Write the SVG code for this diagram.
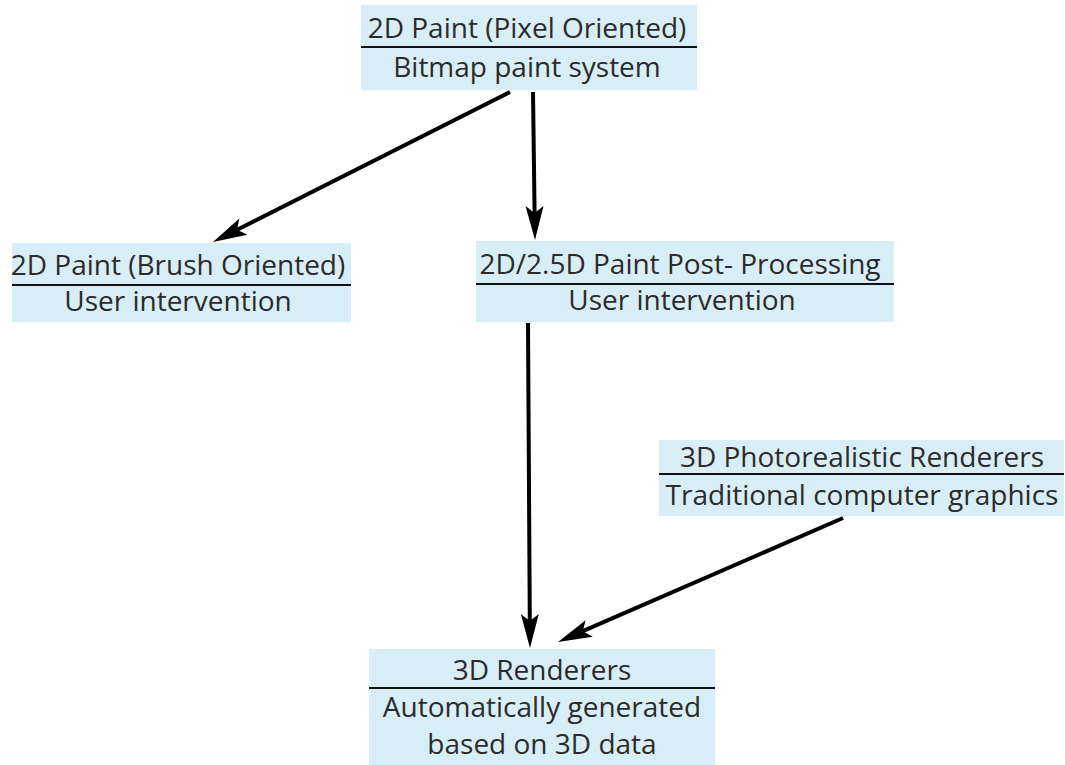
<svg xmlns="http://www.w3.org/2000/svg" width="1065" height="765" viewBox="0 0 1065 765">
<defs>
<style>
.box{fill:#d8eef7;stroke:none}
.div{stroke:#111;stroke-width:2}
.t{font-family:"Open Sans","Noto Sans",sans-serif;font-size:28px;fill:#2b2b2b;text-anchor:middle}
.c{stroke:#000;stroke-width:4;fill:none}
.ah{fill:#000;stroke:none}
</style>
</defs>
<rect width="1065" height="765" fill="#fff"/>
<g id="n1">
<rect class="box" x="361" y="5" width="336" height="85"/>
<line class="div" x1="361" y1="47" x2="697" y2="47"/>
<text class="t" x="527" y="38">2D Paint (Pixel Oriented)</text>
<text class="t" x="527" y="77">Bitmap paint system</text>
</g>
<g id="n2">
<rect class="box" x="12" y="243" width="339" height="79"/>
<line class="div" x1="12" y1="285" x2="351" y2="285"/>
<text class="t" x="178" y="275">2D Paint (Brush Oriented)</text>
<text class="t" x="178" y="311">User intervention</text>
</g>
<g id="n3">
<rect class="box" x="476" y="241" width="418" height="81"/>
<line class="div" x1="476" y1="284" x2="894" y2="284"/>
<text class="t" x="680" y="274">2D/2.5D Paint Post- Processing</text>
<text class="t" x="682" y="310">User intervention</text>
</g>
<g id="n4">
<rect class="box" x="659" y="440" width="405" height="76"/>
<line class="div" x1="659" y1="474" x2="1064" y2="474"/>
<text class="t" x="862" y="467">3D Photorealistic Renderers</text>
<text class="t" x="862" y="505">Traditional computer graphics</text>
</g>
<g id="n5">
<rect class="box" x="369" y="649" width="346" height="116"/>
<line class="div" x1="369" y1="688" x2="715" y2="688"/>
<text class="t" x="542" y="680">3D Renderers</text>
<text class="t" x="542" y="717">Automatically generated</text>
<text class="t" x="542" y="754">based on 3D data</text>
</g>
<g id="connectors">
<line class="c" x1="510" y1="92" x2="237.1" y2="229.8"/>
<polygon class="ah" points="213,242 247.4,234.7 237.1,229.8 239.3,218.6"/>
<line class="c" x1="533" y1="92" x2="534.6" y2="213"/>
<polygon class="ah" points="535,240 543.5,205.9 534.6,213 525.5,206.1"/>
<line class="c" x1="528" y1="323" x2="529.8" y2="621"/>
<polygon class="ah" points="530,648 538.8,613.9 529.8,621 520.8,614.1"/>
<line class="c" x1="843" y1="518" x2="582.8" y2="631.2"/>
<polygon class="ah" points="558,642 592.8,636.7 582.8,631.2 585.6,620.2"/>
</g>
</svg>
